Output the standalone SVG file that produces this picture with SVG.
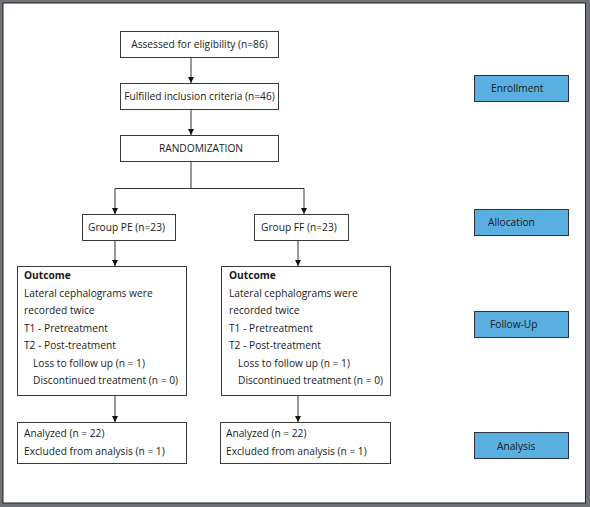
<svg xmlns="http://www.w3.org/2000/svg" width="590" height="507" viewBox="0 0 590 507">
<defs>
<style>
text{font-family:"Open Sans","Noto Sans","DejaVu Sans",sans-serif;font-size:10.2px;fill:#1a1a1a}
.box{fill:#fff;stroke:#3a3a3a;stroke-width:1}
.stage{fill:#5aafe1;stroke:#2b3440;stroke-width:1}
.ln{fill:none;stroke:#333;stroke-width:1}
.b{font-weight:bold}
</style>
<marker id="ah" viewBox="0 0 6 6" refX="6" refY="3" markerWidth="6" markerHeight="6" markerUnits="userSpaceOnUse" orient="auto">
<path d="M0,0L6,3L0,6z" fill="#111"/>
</marker>
</defs>
<rect x="0" y="0" width="590" height="507" fill="#6f7378"/>
<rect x="3" y="3" width="582.5" height="500" fill="#fff" stroke="#222" stroke-width="1"/>
<g id="connectors">
<line class="ln" x1="191" y1="57" x2="191" y2="83" marker-end="url(#ah)"/>
<line class="ln" x1="191" y1="109" x2="191" y2="135" marker-end="url(#ah)"/>
<line class="ln" x1="191" y1="161" x2="191" y2="188.5"/>
<polyline class="ln" points="115,188.5 304,188.5 304,214" marker-end="url(#ah)"/>
<line class="ln" x1="115" y1="188.5" x2="115" y2="214" marker-end="url(#ah)"/>
<line class="ln" x1="115" y1="240" x2="115" y2="266" marker-end="url(#ah)"/>
<line class="ln" x1="298" y1="240" x2="298" y2="266" marker-end="url(#ah)"/>
<line class="ln" x1="115" y1="395" x2="115" y2="422" marker-end="url(#ah)"/>
<line class="ln" x1="298" y1="395" x2="298" y2="422" marker-end="url(#ah)"/>
</g>
<g id="assessed"><rect class="box" x="120.5" y="31.5" width="158" height="26"/><text x="199.5" y="48" text-anchor="middle">Assessed for eligibility (n=86)</text></g>
<g id="fulfilled"><rect class="box" x="120.5" y="83.5" width="158" height="26"/><text x="199.5" y="100" text-anchor="middle">Fulfilled inclusion criteria (n=46)</text></g>
<g id="randomization"><rect class="box" x="120.5" y="135.5" width="158" height="26"/><text x="201" y="152" text-anchor="middle">RANDOMIZATION</text></g>
<g id="groupPE"><rect class="box" x="82.5" y="214.5" width="93" height="26"/><text x="88" y="231">Group PE (n=23)</text></g>
<g id="groupFF"><rect class="box" x="254.5" y="214.5" width="94" height="26"/><text x="261" y="231">Group FF (n=23)</text></g>
<g id="outcomePE"><rect class="box" x="17.5" y="266.5" width="169" height="129"/>
<text x="24" y="279" class="b">Outcome</text>
<text x="24" y="297">Lateral cephalograms were</text>
<text x="24" y="314">recorded twice</text>
<text x="24" y="332">T1 - Pretreatment</text>
<text x="24" y="349">T2 - Post-treatment</text>
<text x="33" y="367">Loss to follow up (n = 1)</text>
<text x="33" y="384">Discontinued treatment (n = 0)</text>
</g>
<g id="outcomeFF"><rect class="box" x="221.5" y="266.5" width="169" height="129"/>
<text x="229" y="279" class="b">Outcome</text>
<text x="229" y="297">Lateral cephalograms were</text>
<text x="229" y="314">recorded twice</text>
<text x="229" y="332">T1 - Pretreatment</text>
<text x="229" y="349">T2 - Post-treatment</text>
<text x="238" y="367">Loss to follow up (n = 1)</text>
<text x="238" y="384">Discontinued treatment (n = 0)</text>
</g>
<g id="analysisPE"><rect class="box" x="17.5" y="422.5" width="169" height="41"/>
<text x="24" y="437">Analyzed (n = 22)</text>
<text x="24" y="455">Excluded from analysis (n = 1)</text>
</g>
<g id="analysisFF"><rect class="box" x="220.5" y="422.5" width="170" height="41"/>
<text x="226" y="437">Analyzed (n = 22)</text>
<text x="226" y="455">Excluded from analysis (n = 1)</text>
</g>
<g id="stageEnrollment"><rect class="stage" x="474.5" y="75.5" width="94" height="26"/><text x="491" y="92">Enrollment</text></g>
<g id="stageAllocation"><rect class="stage" x="474.5" y="209.5" width="94" height="26"/><text x="488" y="226">Allocation</text></g>
<g id="stageFollowUp"><rect class="stage" x="474.5" y="311.5" width="94" height="26"/><text x="490" y="328">Follow-Up</text></g>
<g id="stageAnalysis"><rect class="stage" x="474.5" y="432.5" width="94" height="26"/><text x="497" y="450">Analysis</text></g>
</svg>
